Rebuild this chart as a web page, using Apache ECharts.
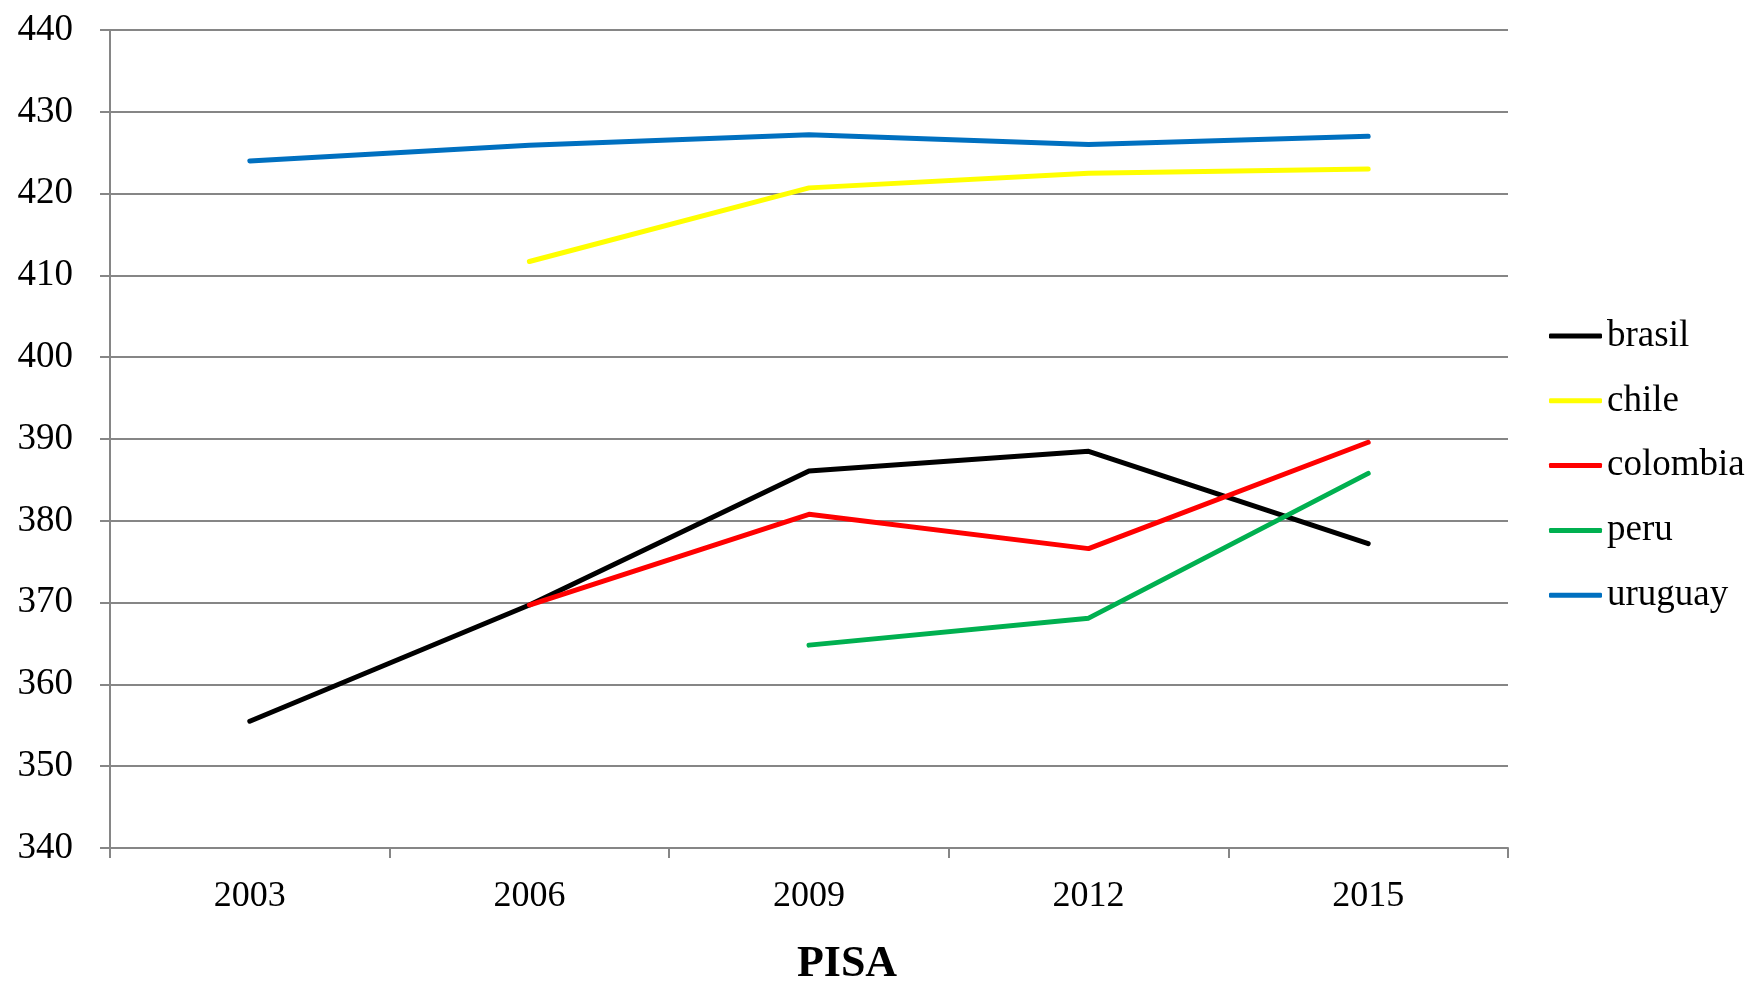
<!DOCTYPE html>
<html>
<head>
<meta charset="utf-8">
<script src="https://cdn.jsdelivr.net/npm/echarts@6/dist/echarts.min.js"></script>
<style>
html,body{margin:0;padding:0;background:#fff;}
#chart{width:1751px;height:982px;}
</style>
</head>
<body>
<div id="chart"></div>
<script>
var years = ['2003', '2006', '2009', '2012', '2015'];
var brasil = [355.5, 369.7, 386.1, 388.5, 377.2];
var chile = [null, 411.7, 420.7, 422.5, 423.0];
var colombia = [null, 369.7, 380.8, 376.6, 389.6];
var peru = [null, null, 364.8, 368.1, 385.8];
var uruguay = [424.0, 425.9, 427.2, 426.0, 427.0];
var seriesNames = ['brasil', 'chile', 'colombia', 'peru', 'uruguay'];
var seriesColors = ['#000000', '#FFFF00', '#FF0000', '#00B050', '#0070C0'];
var seriesData = [brasil, chile, colombia, peru, uruguay];

var FONT = '"Liberation Serif", "DejaVu Serif", serif';
var chart = echarts.init(document.getElementById('chart'));
chart.setOption({
  backgroundColor: '#ffffff',
  animation: false,
  title: {
    text: 'PISA',
    left: 842,
    top: 938,
    textAlign: 'center',
    textStyle: { fontFamily: FONT, fontSize: 44, fontWeight: 'bold', color: '#000' }
  },
  legend: {
    orient: 'vertical',
    left: 1549,
    top: 317.5,
    padding: 0,
    icon: 'roundRect',
    itemWidth: 53,
    itemHeight: 5,
    itemGap: 27.8,
    textStyle: { fontFamily: FONT, fontSize: 37, color: '#000', lineHeight: 36 },
    data: seriesNames
  },
  grid: { left: 110, right: 243, top: 30, bottom: 134 },
  xAxis: {
    type: 'category',
    data: years,
    boundaryGap: true,
    axisLine: { lineStyle: { color: '#868686', width: 2 } },
    axisTick: { show: true, length: 10, lineStyle: { color: '#868686', width: 2 } },
    axisLabel: { fontFamily: FONT, fontSize: 36, color: '#000', margin: 31 }
  },
  yAxis: {
    type: 'value',
    min: 340,
    max: 440,
    interval: 10,
    axisLine: { show: true, lineStyle: { color: '#868686', width: 2 } },
    axisTick: { show: true, length: 10, lineStyle: { color: '#868686', width: 2 } },
    axisLabel: { fontFamily: FONT, fontSize: 37, color: '#000', margin: 37 },
    splitLine: { lineStyle: { color: '#868686', width: 2 } }
  },
  series: seriesNames.map(function (n, i) {
    return {
      name: n,
      type: 'line',
      data: seriesData[i],
      symbol: 'none',
      connectNulls: false,
      color: seriesColors[i],
      itemStyle: { color: seriesColors[i] },
      lineStyle: { color: seriesColors[i], width: 5, cap: 'round', join: 'round' }
    };
  })
});
</script>
</body>
</html>
